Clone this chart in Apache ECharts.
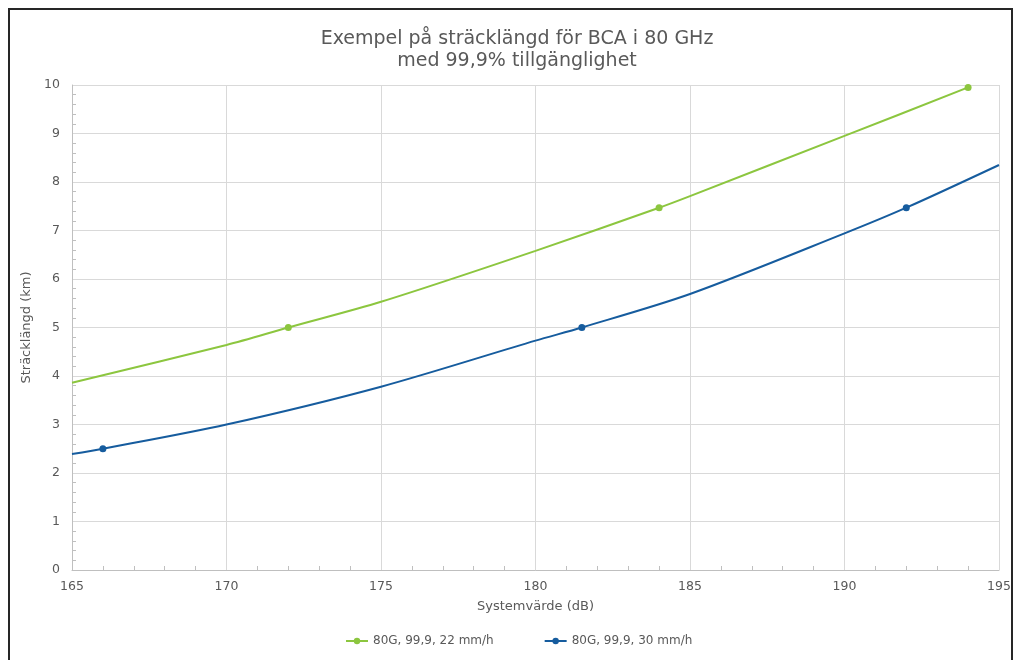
<!DOCTYPE html>
<html>
<head>
<meta charset="utf-8">
<script src="https://cdn.jsdelivr.net/npm/echarts@6/dist/echarts.min.js"></script>
<style>
html,body{margin:0;padding:0;background:#fff;}
#chart{width:1017px;height:660px;}
</style>
</head>
<body>
<div id="chart"></div>
<script>
// Data
const titleLines = ['Exempel på sträcklängd för BCA i 80 GHz', 'med 99,9% tillgänglighet'];
const xName = 'Systemvärde (dB)';
const yName = 'Sträcklängd (km)';
const seriesNames = ['80G, 99,9, 22 mm/h', '80G, 99,9, 30 mm/h'];

// green curve: x values, y values, marker flags
const greenX = [165, 170, 172, 175, 180, 184, 185, 190, 194];
const greenY = [3.86, 4.64, 5.0, 5.53, 6.58, 7.47, 7.71, 8.95, 9.95];
const greenMarker = [false, false, true, false, false, true, false, false, true];

// blue curve
const blueX = [165, 166, 170, 175, 180, 181.5, 185, 190, 192, 195];
const blueY = [2.39, 2.5, 3.0, 3.78, 4.73, 5.0, 5.69, 6.94, 7.47, 8.35];
const blueMarker = [false, true, false, false, false, true, false, false, true, false];

const xMin = 165, xMax = 195, xStep = 5;
const yMin = 0, yMax = 10, yStep = 1;

const colors = ['#8cc63f', '#165c9e'];
const font = 'DejaVu Sans';
const textColor = '#595959';

function build(xs, ys, flags) {
  return xs.map((x, i) => ({ value: [x, ys[i]], symbol: flags[i] ? 'circle' : 'none' }));
}

const chart = echarts.init(document.getElementById('chart'), null, { renderer: 'canvas' });
chart.setOption({
  animation: false,
  backgroundColor: '#ffffff',
  color: colors,
  textStyle: { fontFamily: font },
  title: {
    text: titleLines.join('\n'),
    left: 512,
    top: 23,
    textAlign: 'center',
    textStyle: { fontFamily: font, fontSize: 19, fontWeight: 'normal', color: textColor, lineHeight: 22 }
  },
  legend: {
    bottom: 8,
    left: 340,
    itemGap: 50,
    itemWidth: 22,
    itemHeight: 8,
    textStyle: { fontFamily: font, fontSize: 12, color: textColor }
  },
  grid: { left: 72, right: 18, top: 85, bottom: 90, containLabel: false },
  xAxis: {
    type: 'value',
    min: xMin, max: xMax, interval: xStep,
    name: xName,
    nameLocation: 'middle',
    nameGap: 30,
    nameTextStyle: { fontFamily: font, fontSize: 13, color: textColor },
    axisLine: { show: true, lineStyle: { color: '#bfbfbf', width: 1 } },
    axisTick: { show: false, inside: true },
    minorTick: { show: true, splitNumber: 5, length: 4, lineStyle: { color: '#bfbfbf' } },
    axisLabel: { fontFamily: font, fontSize: 12.5, color: textColor, margin: 10 },
    splitLine: { show: true, lineStyle: { color: '#d9d9d9', width: 1 } }
  },
  yAxis: {
    type: 'value',
    min: yMin, max: yMax, interval: yStep,
    name: yName,
    nameLocation: 'middle',
    nameGap: 33,
    nameRotate: 90,
    nameTextStyle: { fontFamily: font, fontSize: 13, color: textColor },
    axisLine: { show: true, lineStyle: { color: '#bfbfbf', width: 1 } },
    axisTick: { show: false, inside: true },
    minorTick: { show: true, splitNumber: 5, length: 4, lineStyle: { color: '#bfbfbf' } },
    axisLabel: { fontFamily: font, fontSize: 12.5, color: textColor, margin: 12 },
    splitLine: { show: true, lineStyle: { color: '#d9d9d9', width: 1 } }
  },
  graphic: [{
    type: 'rect',
    shape: { x: 9, y: 9, width: 1003, height: 670 },
    style: { fill: 'none', stroke: '#262626', lineWidth: 2 },
    silent: true,
    z: 100
  }],
  series: [
    {
      name: seriesNames[0], type: 'line', smooth: 0.3,
      symbol: 'circle', symbolSize: 7, showAllSymbol: true,
      lineStyle: { width: 2, color: colors[0] },
      itemStyle: { color: colors[0] },
      data: build(greenX, greenY, greenMarker)
    },
    {
      name: seriesNames[1], type: 'line', smooth: 0.3,
      symbol: 'circle', symbolSize: 7, showAllSymbol: true,
      lineStyle: { width: 2, color: colors[1] },
      itemStyle: { color: colors[1] },
      data: build(blueX, blueY, blueMarker)
    }
  ]
});
</script>
</body>
</html>
